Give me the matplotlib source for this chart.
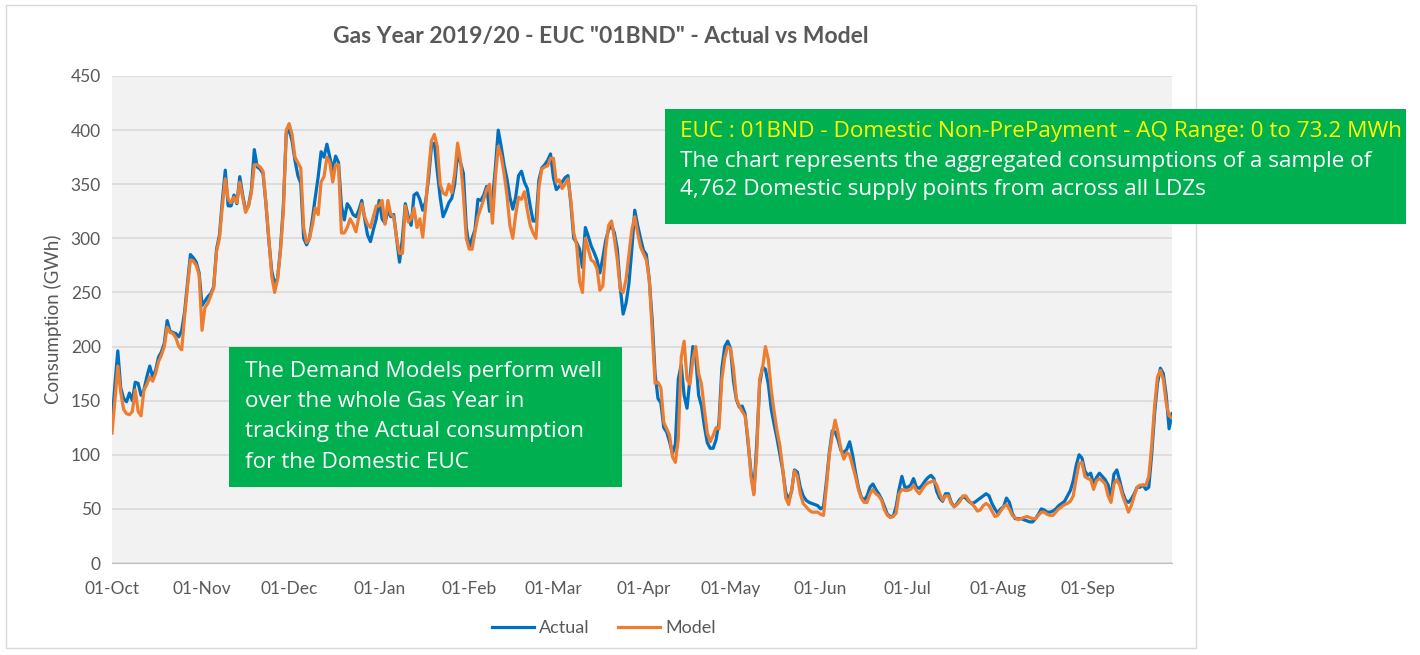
import matplotlib
matplotlib.use("Agg")
import matplotlib.pyplot as plt
import matplotlib.dates as mdates
from matplotlib.patches import Rectangle
import pandas as pd

# daily consumption (GWh), gas year 01-Oct-2019 .. 30-Sep-2020, one row per month
actual = [
    130, 165, 196, 162, 152, 149, 157, 150, 167, 166, 155, 160, 172, 182, 172, 178,
    190, 195, 203, 224, 214, 213, 212, 209, 215, 232, 258, 285, 282, 278, 268,
    238, 242, 246, 249, 255, 290, 303, 335, 363, 330, 330, 340, 332, 357, 340, 326,
    330, 345, 382, 366, 364, 360, 332, 298, 270, 258, 263, 290, 330, 397,
    400, 390, 372, 358, 351, 300, 294, 300, 318, 338, 357, 380, 375, 387, 375, 363,
    376, 370, 330, 317, 332, 328, 322, 320, 326, 335, 318, 303, 297, 308, 318,
    335, 318, 314, 326, 320, 322, 300, 278, 300, 332, 320, 312, 340, 342, 336, 326,
    334, 355, 385, 388, 362, 338, 320, 326, 333, 337, 350, 378, 370, 360, 310,
    292, 300, 308, 336, 335, 340, 348, 325, 335, 365, 400, 385, 368, 355, 338, 327,
    338, 358, 362, 352, 346, 330, 316, 316, 354, 365, 368, 372, 378,
    356, 345, 348, 352, 356, 358, 332, 300, 296, 290, 273, 310, 302, 293, 287, 280,
    268, 282, 298, 308, 312, 305, 290, 255, 230, 240, 258, 290, 326, 312, 300,
    289, 285, 262, 225, 175, 152, 148, 125, 121, 112, 101, 110, 170, 183, 155, 143,
    170, 200, 190, 155, 145, 126, 111, 106, 106, 114, 130, 180, 200, 205,
    198, 168, 151, 144, 145, 138, 112, 85, 65, 110, 165, 181, 179, 165, 142, 128,
    115, 100, 85, 65, 59, 66, 86, 84, 70, 62, 58, 56, 55, 54, 53,
    50, 52, 75, 102, 122, 121, 114, 104, 102, 105, 112, 100, 84, 70, 61, 58,
    62, 70, 73, 68, 64, 59, 52, 45, 43, 43, 52, 68, 80, 70,
    70, 72, 78, 70, 69, 72, 76, 79, 81, 78, 66, 60, 57, 64, 64, 56,
    52, 55, 59, 61, 60, 57, 55, 56, 58, 60, 62, 64, 62, 55, 50,
    46, 50, 52, 60, 56, 46, 41, 41, 41, 40, 39, 38, 38, 41, 45, 50,
    49, 47, 47, 48, 50, 53, 55, 57, 62, 67, 76, 90, 100, 97, 85,
    81, 83, 73, 79, 83, 80, 77, 72, 61, 82, 86, 76, 65, 58, 56, 59,
    64, 70, 70, 72, 68, 70, 100, 138, 166, 180, 175, 155, 124, 138,
]

model = [
    120, 150, 182, 158, 142, 138, 137, 140, 160, 140, 136, 160, 165, 172, 168, 175,
    186, 192, 200, 218, 213, 212, 208, 200, 197, 228, 255, 280, 279, 275, 266,
    215, 236, 240, 247, 254, 288, 300, 330, 355, 336, 333, 338, 333, 352, 338, 324,
    330, 342, 368, 368, 366, 362, 333, 300, 265, 250, 262, 288, 325, 400,
    406, 396, 375, 370, 365, 310, 296, 300, 312, 328, 322, 352, 357, 375, 370, 352,
    368, 368, 305, 305, 310, 318, 313, 306, 320, 332, 320, 313, 310, 320, 330,
    330, 335, 313, 335, 322, 320, 300, 286, 286, 330, 315, 318, 328, 310, 318, 301,
    330, 362, 390, 396, 385, 350, 342, 340, 350, 342, 360, 388, 372, 340, 300,
    290, 290, 306, 320, 328, 336, 345, 350, 314, 356, 385, 376, 360, 340, 312, 300,
    322, 338, 336, 343, 326, 312, 305, 300, 347, 364, 366, 367, 374,
    374, 352, 354, 346, 350, 355, 335, 305, 294, 260, 250, 300, 290, 280, 278, 272,
    252, 256, 290, 312, 316, 300, 280, 253, 250, 262, 285, 308, 320, 305, 292,
    286, 280, 262, 215, 166, 167, 162, 130, 124, 118, 98, 93, 115, 190, 205, 170,
    165, 188, 200, 175, 165, 141, 120, 112, 118, 125, 124, 170, 190, 200,
    198, 180, 152, 145, 140, 136, 115, 80, 63, 100, 170, 180, 200, 188, 160, 140,
    122, 108, 86, 60, 54, 67, 85, 80, 64, 55, 52, 49, 47, 47, 47,
    45, 44, 70, 100, 118, 132, 120, 105, 96, 102, 100, 90, 80, 68, 60, 56,
    56, 64, 68, 64, 62, 58, 49, 44, 42, 43, 46, 64, 68, 67,
    67, 68, 72, 67, 64, 68, 72, 74, 75, 76, 72, 64, 58, 62, 62, 55,
    52, 54, 57, 62, 62, 58, 55, 52, 48, 49, 53, 55, 53, 48, 43,
    44, 48, 52, 54, 50, 44, 42, 40, 41, 42, 43, 42, 41, 41, 44, 47,
    47, 45, 44, 44, 47, 50, 52, 54, 55, 57, 62, 78, 92, 93, 80,
    78, 77, 68, 76, 78, 76, 73, 62, 56, 73, 77, 72, 62, 55, 47, 53,
    62, 70, 72, 72, 72, 80, 108, 145, 172, 178, 170, 148, 136, 134,
]

dates = pd.date_range("2019-10-01", "2020-09-30", freq="D")

title = 'Gas Year 2019/20 - EUC "01BND" - Actual vs Model'
box1_lines = ["EUC : 01BND - Domestic Non-PrePayment - AQ Range: 0 to 73.2 MWh",
              "The chart represents the aggregated consumptions of a sample of",
              "4,762 Domestic supply points from across all LDZs"]
box2_lines = ["The Demand Models perform well",
              "over the whole Gas Year in",
              "tracking the Actual consumption",
              "for the Domestic EUC"]

W, H = 1420, 655


def fx(px):
    return px / W


def fy(py):
    return 1 - py / H


plt.rcParams["font.family"] = ["Lato", "DejaVu Sans"]
grey = "#595959"
box_font = ["Open Sans", "DejaVu Sans"]

fig = plt.figure(figsize=(W / 100, H / 100), dpi=100)
fig.patch.set_facecolor("white")

# chart frame
fig.add_artist(Rectangle((fx(6), fy(648)), fx(1196) - fx(6), fy(5) - fy(648),
                         transform=fig.transFigure, fill=False,
                         edgecolor="#d9d9d9", linewidth=1))

ax = fig.add_axes([fx(112), fy(563), fx(1172) - fx(112), fy(76) - fy(563)])
ax.set_facecolor("#f2f2f2")

ax.plot(dates, actual, color="#0070c0", linewidth=2.3, label="Actual")
ax.plot(dates, model, color="#ed7d31", linewidth=2.3, label="Model")

ax.set_xlim(dates[0], dates[-1])
ax.set_ylim(0, 450)
ax.set_yticks(range(0, 451, 50))
ax.xaxis.set_major_locator(mdates.MonthLocator())
ax.xaxis.set_major_formatter(mdates.DateFormatter("%d-%b"))
ax.grid(axis="y", color="#d9d9d9", linewidth=1.2)
ax.set_axisbelow(True)
for s in ["top", "right", "left"]:
    ax.spines[s].set_visible(False)
ax.spines["bottom"].set_color("#bfbfbf")
ax.tick_params(axis="y", length=0, labelsize=12.5, labelcolor=grey, pad=8)
ax.tick_params(axis="x", length=0, labelsize=12.5, labelcolor=grey, pad=13)
ax.set_ylabel("Consumption (GWh)", fontsize=13.5, color=grey, labelpad=6)

fig.text(fx(601), fy(37), title, ha="center", va="center",
         fontsize=16.5, fontweight="bold", color=grey)

leg = ax.legend(loc="center", ncol=2, frameon=False, fontsize=13,
                labelcolor=grey, handlelength=2.3, columnspacing=1.6,
                handletextpad=0.3, borderaxespad=0)
leg.set_bbox_to_anchor((fx(604), fy(628)), transform=fig.transFigure)

# annotation boxes
green = "#00b050"
fig.add_artist(Rectangle((fx(665), fy(224)), fx(1406) - fx(665), fy(109) - fy(224),
                         transform=fig.transFigure, facecolor=green,
                         edgecolor="none"))
for i, line in enumerate(box1_lines):
    fig.text(fx(680), fy(132 + 29 * i), line, ha="left", va="center",
             fontsize=16.2, family=box_font,
             color="#ffff00" if i == 0 else "white")

fig.add_artist(Rectangle((fx(229), fy(487)), fx(622) - fx(229), fy(347) - fy(487),
                         transform=fig.transFigure, facecolor=green,
                         edgecolor="none"))
for i, line in enumerate(box2_lines):
    fig.text(fx(245), fy(371 + 30.5 * i), line, ha="left", va="center",
             fontsize=16.2, family=box_font, color="white")

fig.savefig("out.png", dpi=100)
